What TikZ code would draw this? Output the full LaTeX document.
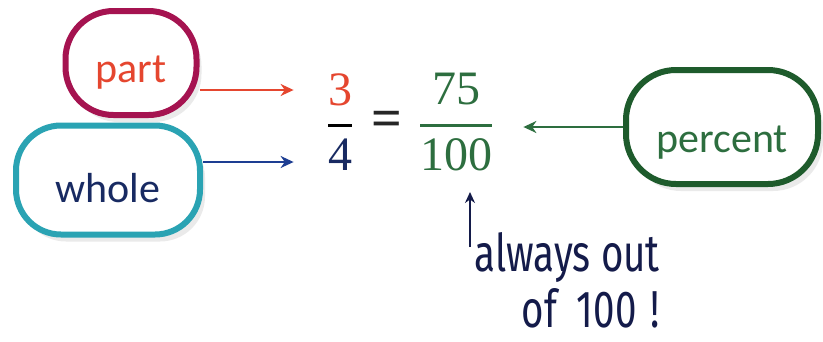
\RequirePackage{fix-cm}
\documentclass[tikz,border=0pt]{standalone}
\usepackage{amsmath}
\usepackage{fontspec}
\setmainfont{Carlito}
\newfontfamily\handfont[FakeStretch=0.74]{Fira Sans}
\newfontfamily\numfont{Liberation Serif}
\usetikzlibrary{arrows.meta,shadows}
\definecolor{partrim}{HTML}{A51350}
\definecolor{partink}{HTML}{E5462F}
\definecolor{wholerim}{HTML}{2AA3B3}
\definecolor{wholeink}{HTML}{182A62}
\definecolor{wholearrow}{HTML}{1D3D92}
\definecolor{pctrim}{HTML}{1E5B2C}
\definecolor{pctink}{HTML}{2D6E3F}
\definecolor{noteink}{HTML}{141B4A}
\begin{document}
\begin{tikzpicture}[x=1pt, y=1pt, >={Stealth[length=13pt,width=12pt]},
  bubble/.style={draw, fill=white, line width=6pt, rounded corners=#1, inner sep=0pt,
    font=\fontsize{42}{42}\selectfont, text height=44pt, text depth=0pt,
    drop shadow={opacity=.16, shadow xshift=5pt, shadow yshift=-7pt}},
  numbers/.style={inner sep=0pt, font=\numfont\fontsize{48}{48}\selectfont},
  link/.style={->, line width=2.4pt}]
\useasboundingbox[fill=white] (0,0) rectangle (823,-341);

% the three bubbles
\node[bubble=48pt, draw=partrim, text=partink, minimum width=131pt, minimum height=104pt,
  text height=38pt] (part) at (131,-63) {part};
\node[bubble=45pt, draw=wholerim, text=wholeink, minimum width=184pt, minimum height=109pt] (whole) at (108,-180) {whole};
\node[bubble=50pt, draw=pctrim, text=pctink, minimum width=192pt, minimum height=114pt,
  text height=50pt] (percent) at (722,-127) {percent};

% the proportion
\node[numbers] (lhs) at (340,-122) {$\displaystyle\genfrac{}{}{3.5pt}{0}{\text{\color{partink}3}}{\text{\color{wholeink}4}}$};
\node[numbers, text=black!85, font=\numfont\bfseries\fontsize{54}{54}\selectfont] (eq) at (387,-124) {=};
\node[numbers, text=pctink] (rhs) at (456,-122) {$\displaystyle\genfrac{}{}{3pt}{0}{\text{75}}{\text{100}}$};

\draw[link, partink, shorten >=33pt] (part.east |- 0,-90) -- (lhs.west |- 0,-90);
\draw[link, wholearrow, shorten >=33pt] (whole.east |- 0,-162) -- (lhs.west |- 0,-162);
\draw[link, pctink, shorten >=30pt] (percent.west) -- (percent.west -| rhs.east);

% handwritten note
\node[inner sep=0pt, anchor=east, align=right, text=noteink, font=\handfont\fontsize{52}{56}\selectfont]
  (note) at (660,-280) {always out\\of\hspace{20pt}100\hspace{14pt}!};
\coordinate (notetail) at (470,-247);
\draw[->, noteink, line width=2.6pt, >={Stealth[length=11pt,width=10pt]}] (notetail) -- (notetail |- 0,-192);
\end{tikzpicture}
\end{document}
